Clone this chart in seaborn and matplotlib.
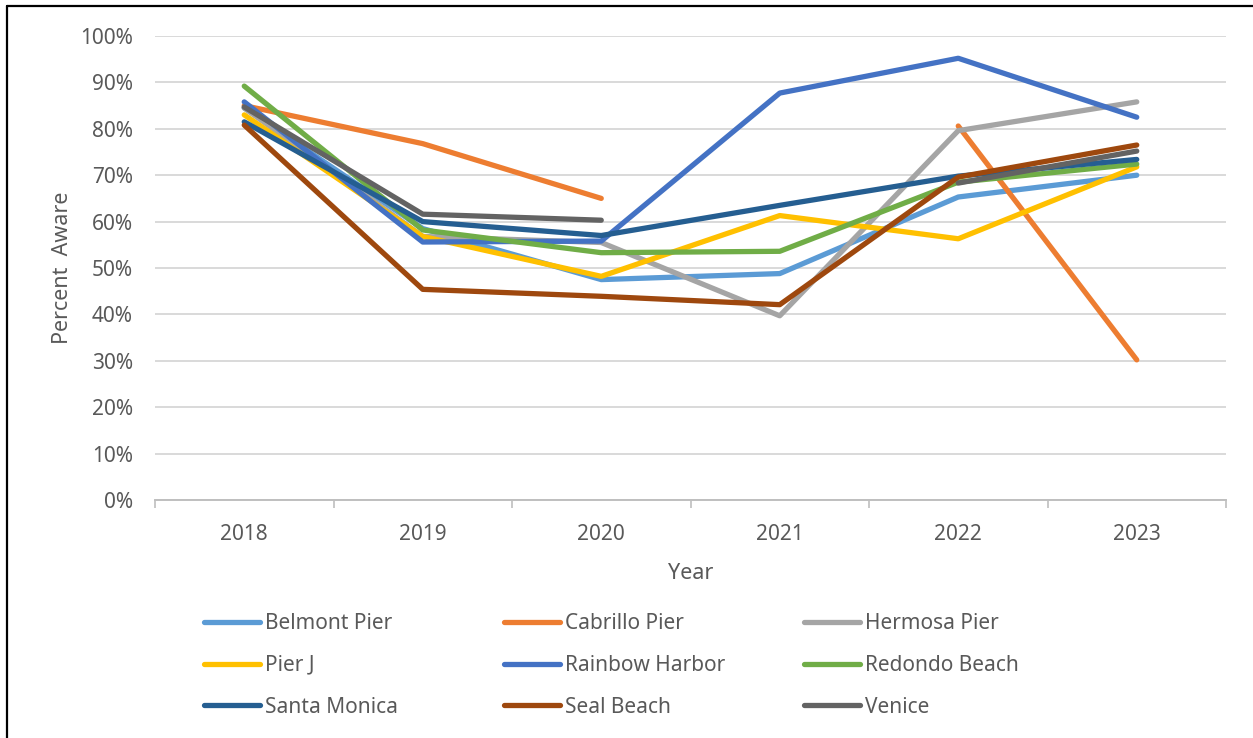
import numpy as np
import pandas as pd
import matplotlib
matplotlib.use("Agg")
import matplotlib.pyplot as plt
from matplotlib.ticker import PercentFormatter, FixedLocator
from matplotlib.lines import Line2D
import seaborn as sns

years = [2018, 2019, 2020, 2021, 2022, 2023]
nan = np.nan

belmont_pier = [84.5, 58.5, 47.5, 48.8, 65.3, 70.0]
cabrillo_pier = [85.0, 76.8, 65.0, nan, 80.6, 30.2]
hermosa_pier = [84.5, 56.8, 55.5, 39.7, 79.6, 85.8]
pier_j = [83.0, 56.8, 48.2, 61.3, 56.3, 71.8]
rainbow_harbor = [85.8, 55.6, 55.8, 87.7, 95.2, 82.5]
redondo_beach = [89.2, 58.2, 53.3, 53.6, 68.5, 72.4]
santa_monica = [81.5, 60.0, 57.0, 63.5, 69.8, 73.4]
seal_beach = [80.8, 45.4, 43.9, 42.1, 69.6, 76.5]
venice = [84.7, 61.6, 60.3, nan, 68.3, 75.2]

sites = ["Belmont Pier", "Cabrillo Pier", "Hermosa Pier", "Pier J", "Rainbow Harbor",
         "Redondo Beach", "Santa Monica", "Seal Beach", "Venice"]
series = [belmont_pier, cabrillo_pier, hermosa_pier, pier_j, rainbow_harbor,
          redondo_beach, santa_monica, seal_beach, venice]
colors = ["#5B9BD5", "#ED7D31", "#A5A5A5", "#FFC000", "#4472C4",
          "#70AD47", "#255E91", "#9E480E", "#636363"]

# long table; a missing year starts a new segment so the line breaks
rows = []
for site, vals in zip(sites, series):
    seg = 0
    for yr, v in zip(years, vals):
        if np.isnan(v):
            seg += 1
            continue
        rows.append({"site": site, "year": yr, "pct": v, "seg": f"{site}-{seg}"})
df = pd.DataFrame(rows)

sns.set_theme(style="white")
plt.rcParams["font.family"] = ["Noto Sans", "DejaVu Sans"]
text_col = "#595959"

fig = plt.figure(figsize=(12.53, 7.38), dpi=100)
ax = fig.add_axes([155 / 1253, 1 - 500 / 738, 1071 / 1253, 464 / 738])

sns.lineplot(data=df, x="year", y="pct", hue="site", units="seg", estimator=None,
             hue_order=sites, palette=colors, linewidth=3.8, legend=False, ax=ax,
             solid_capstyle="round", solid_joinstyle="round", sort=True)

ax.set_xlim(2017.5, 2023.5)
ax.set_ylim(0, 100)
ax.yaxis.set_major_locator(FixedLocator(np.arange(0, 101, 10)))
ax.yaxis.set_major_formatter(PercentFormatter(100, decimals=0))
ax.set_xticks(years)
ax.set_xticks(np.arange(2017.5, 2024, 1), minor=True)
ax.grid(axis="y", color="#D9D9D9", linewidth=1.4)
ax.set_axisbelow(True)
for s in ["top", "right", "left"]:
    ax.spines[s].set_visible(False)
ax.spines["bottom"].set_color("#BFBFBF")
ax.spines["bottom"].set_linewidth(1.4)
ax.tick_params(axis="x", which="major", length=0, pad=17, labelsize=15, labelcolor=text_col)
ax.tick_params(axis="x", which="minor", length=6, width=1.2, color="#BFBFBF", bottom=True)
ax.tick_params(axis="y", length=0, pad=16, labelsize=15, labelcolor=text_col)

ax.set_xlabel("Year", fontsize=15.5, color=text_col)
ax.xaxis.set_label_coords(0.5, -0.135)
ax.set_ylabel("Percent  Aware", fontsize=15.5, color=text_col)
ax.yaxis.set_label_coords(-0.077, 0.5)

# legend: three columns placed like the original
for col in range(3):
    idx = [col, col + 3, col + 6]
    handles = [Line2D([], [], color=colors[i], linewidth=3.8, solid_capstyle="round") for i in idx]
    labels = [sites[i] for i in idx]
    leg = fig.legend(handles, labels, loc="upper left",
                     bbox_to_anchor=((204 + 300 * col) / 1253, 1 - 613 / 738),
                     frameon=False, fontsize=15, handlelength=2.7, handletextpad=0.25,
                     labelspacing=1.0, borderpad=0, borderaxespad=0)
    for t in leg.get_texts():
        t.set_color(text_col)

# chart frame (left and top edges visible)
fig.add_artist(Line2D([6.5 / 1253, 6.5 / 1253], [0, 1 - 5.5 / 738], color="black",
                      linewidth=1.6, transform=fig.transFigure))
fig.add_artist(Line2D([6.5 / 1253, 1], [1 - 5.5 / 738, 1 - 5.5 / 738], color="black",
                      linewidth=1.6, transform=fig.transFigure))

fig.savefig("out.png", dpi=100)
